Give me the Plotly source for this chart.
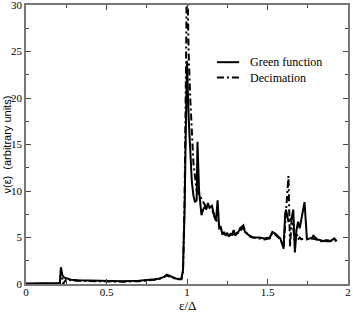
import plotly.graph_objects as go

# Green function (solid)
e_green = [0.0, 0.1, 0.2, 0.21, 0.217, 0.225, 0.235, 0.25, 0.28, 0.32, 0.4, 0.5, 0.6, 0.7, 0.76, 0.8,
           0.83, 0.86, 0.875, 0.89, 0.91, 0.93, 0.95, 0.965, 0.975, 0.985, 0.993, 1.0, 1.01, 1.02,
           1.03, 1.04, 1.05, 1.06, 1.065, 1.075, 1.085, 1.09, 1.1, 1.11, 1.12, 1.13, 1.14, 1.155,
           1.17, 1.18, 1.19, 1.2, 1.21, 1.22, 1.23, 1.24, 1.25, 1.26, 1.27, 1.28, 1.29, 1.3, 1.31,
           1.32, 1.33, 1.35, 1.36, 1.38, 1.41, 1.45, 1.48, 1.515, 1.53, 1.55, 1.58, 1.6, 1.61, 1.615,
           1.63, 1.65, 1.66, 1.67, 1.68, 1.69, 1.7, 1.715, 1.73, 1.745, 1.76, 1.78, 1.785, 1.8, 1.81,
           1.83, 1.85, 1.86, 1.875, 1.89, 1.9, 1.915, 1.93]
v_green = [0.05, 0.05, 0.05, 0.1, 1.8, 1.0, 0.7, 0.6, 0.45, 0.4, 0.35, 0.3, 0.3, 0.35, 0.4, 0.5,
           0.6, 0.8, 1.0, 0.9, 0.7, 0.6, 0.55, 0.55, 1.5, 8.0, 17.0, 24.0, 18.0, 13.5,
           11.0, 9.5, 8.8, 9.0, 15.3, 10.0, 8.0, 7.4, 8.0, 8.3, 8.0, 8.7, 8.2, 8.4,
           7.2, 6.8, 9.0, 6.0, 6.1, 5.3, 5.6, 5.2, 5.5, 5.1, 5.4, 5.3, 5.8, 5.2, 5.5,
           5.6, 6.0, 6.3, 5.6, 5.3, 5.0, 5.0, 4.9, 5.0, 5.6, 5.4, 4.9, 3.8, 7.6, 8.0,
           6.7, 7.1, 8.0, 3.4, 5.8, 6.7, 6.0, 7.5, 8.8, 4.8, 4.9, 5.0, 5.2, 4.9, 4.8,
           4.7, 4.6, 4.7, 4.7, 4.6, 4.7, 4.9, 4.6]

# Decimation (dash-dot)
e_decim = [0.0, 0.1, 0.2, 0.21, 0.217, 0.225, 0.23, 0.25, 0.28, 0.32, 0.4, 0.5, 0.6, 0.7, 0.76, 0.8,
           0.83, 0.86, 0.875, 0.89, 0.91, 0.93, 0.95, 0.965, 0.975, 0.985, 0.993, 1.0, 1.01, 1.02,
           1.04, 1.06, 1.08, 1.1, 1.12, 1.14, 1.16, 1.18, 1.2, 1.22, 1.24, 1.26, 1.28, 1.3, 1.32,
           1.35, 1.38, 1.41, 1.45, 1.48, 1.515, 1.53, 1.55, 1.58, 1.6, 1.61, 1.62, 1.63, 1.635,
           1.64, 1.65, 1.66, 1.67, 1.68, 1.69, 1.7, 1.71, 1.73, 1.76, 1.78, 1.8, 1.83, 1.86, 1.89,
           1.91, 1.93]
v_decim = [0.0, 0.0, 0.0, 0.05, 1.5, 0.8, 0.0, 0.5, 0.4, 0.35, 0.3, 0.25, 0.25, 0.3, 0.35, 0.45,
           0.55, 0.75, 0.9, 0.8, 0.65, 0.55, 0.5, 0.5, 1.2, 9.0, 22.0, 35.0, 25.0, 20.0,
           13.0, 10.0, 9.5, 8.8, 8.2, 8.3, 7.8, 7.0, 6.3, 5.6, 5.3, 5.2, 5.4, 5.3, 5.5,
           6.1, 5.2, 5.0, 4.9, 4.8, 4.9, 5.5, 5.3, 4.8, 4.0, 7.0, 9.0, 11.6, 8.0,
           4.0, 7.0, 6.0, 4.5, 5.5, 4.8, 5.0, 4.8, 4.9, 4.8, 4.9, 4.8, 4.6, 4.6, 4.6,
           4.8, 4.6]

x_ticks = [0, 0.5, 1, 1.5, 2]
x_tick_labels = ["0", "0.5", "1", "1.5", "2"]
y_ticks = [0, 5, 10, 15, 20, 25, 30]
y_tick_labels = ["0", "5", "10", "15", "20", "25", "30"]

series_names = ["Green function", "Decimation"]
dash_styles = ["solid", "7px,3px,2px,3px"]

serif = "Liberation Serif, Times New Roman, serif"

fig = go.Figure()
fig.add_trace(go.Scatter(x=e_green, y=v_green, mode="lines", name=series_names[0],
                         line=dict(color="black", width=2, dash=dash_styles[0])))
fig.add_trace(go.Scatter(x=e_decim, y=v_decim, mode="lines", name=series_names[1],
                         line=dict(color="black", width=2, dash=dash_styles[1])))

frame_color = "#777777"
axis_common = dict(showline=True, linecolor=frame_color, linewidth=1.5, mirror="allticks",
                   ticks="inside", ticklen=5, tickcolor="#444444", tickwidth=1,
                   showgrid=False, zeroline=False, automargin=False,
                   ticklabeloverflow="allow",
                   tickfont=dict(family=serif, size=11, color="black"))

fig.update_xaxes(range=[0, 2], tickvals=x_ticks, ticktext=x_tick_labels, ticklabelstandoff=-3,
                 minor=dict(dtick=0.25, ticks="inside", ticklen=3, tickcolor="#444444", showgrid=False),
                 **axis_common)
fig.update_yaxes(range=[0, 30], tickvals=y_ticks, ticktext=y_tick_labels, ticklabelstandoff=0,
                 minor=dict(dtick=2.5, ticks="inside", ticklen=3, tickcolor="#444444", showgrid=False),
                 **axis_common)

# axis titles as annotations
fig.add_annotation(text="ε/Δ", xref="x", yref="paper", x=1.0, y=0, yshift=-13, borderpad=0,
                   xanchor="center", yanchor="top", showarrow=False,
                   font=dict(family=serif, size=13, color="black"))
fig.add_annotation(text="ν(ε)  (arbitrary units)", xref="paper", yref="paper",
                   x=0, y=0.5, xshift=-20, xanchor="center", yanchor="middle", textangle=-90,
                   borderpad=0,
                   showarrow=False, font=dict(family="Liberation Sans, Arial, sans-serif", size=11,
                                              color="black"))

# legend drawn manually (line sample + text)
leg_y = [0.795, 0.74]
for name, dash, ly in zip(series_names, dash_styles, leg_y):
    fig.add_shape(type="line", xref="paper", yref="paper", x0=0.593, x1=0.662, y0=ly, y1=ly,
                  line=dict(color="black", width=2, dash=dash))
    fig.add_annotation(text=name, xref="paper", yref="paper", x=0.688, y=ly,
                       xanchor="left", yanchor="middle", showarrow=False,
                       font=dict(family=serif, size=12, color="black"))

fig.update_layout(
    width=353, height=312,
    margin=dict(l=26, r=5, t=5, b=28),
    paper_bgcolor="white", plot_bgcolor="white",
    showlegend=False,
)

fig.write_html("out.html", config={"displayModeBar": False},
               post_script="document.body.style.margin='0';document.body.style.padding='0';")
